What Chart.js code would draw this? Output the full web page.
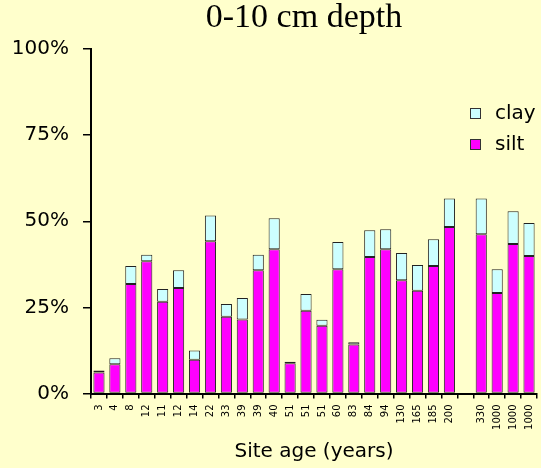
<!DOCTYPE html>
<html>
<head>
<meta charset="utf-8">
<script src="https://cdn.jsdelivr.net/npm/chart.js@4/dist/chart.umd.min.js"></script>
<style>
  html, body { margin: 0; padding: 0; background: #FFFFCC; }
  #wrap { width: 541px; height: 468px; }
</style>
</head>
<body>
<div id="wrap"><canvas id="chart" width="541" height="468"></canvas></div>
<script>
// data
const siteAges = ['3', '4', '8', '12', '11', '12', '14', '22', '33', '39', '39', '40', '51', '51', '51',
    '60', '83', '84', '94', '130', '165', '185', '200', '', '330', '1000', '1000', '1000'];
const siltValues = [6.1, 8.5, 31.8, 38.4, 26.6, 30.6, 9.8, 44.2, 22.3, 21.5, 35.8, 41.9, 8.8, 24.0, 19.7,
    36.1, 14.2, 39.6, 41.9, 32.9, 29.8, 37.0, 48.3, null, 46.2, 29.2, 43.4, 39.9];
const clayValues = [0.6, 1.7, 5.2, 1.9, 3.7, 5.2, 2.7, 7.5, 3.7, 6.2, 4.5, 9.0, 0.4, 4.9, 1.7,
    7.9, 0.7, 7.8, 5.8, 7.9, 7.5, 7.8, 8.3, null, 10.4, 6.9, 9.5, 9.6];
const yTicks = [0, 25, 50, 75, 100];

const sansFont = "'DejaVu Sans', sans-serif";

// judul dan legenda digambar sendiri
const extrasPlugin = {
    id: 'extras',
    afterDraw(chart) {
        const ctx = chart.ctx;
        const area = chart.chartArea;
        ctx.save();
        ctx.fillStyle = '#000';
        ctx.font = "34px 'Liberation Serif', serif";
        ctx.textAlign = 'center';
        ctx.textBaseline = 'alphabetic';
        ctx.fillText('0-10 cm depth', (area.left + area.right) / 2 - 10, 27);

        const items = [chart.data.datasets[1], chart.data.datasets[0]];
        ctx.font = '20px ' + sansFont;
        ctx.textAlign = 'left';
        ctx.textBaseline = 'middle';
        items.forEach((ds, i) => {
            const y = 108 + i * 31;
            ctx.fillStyle = ds.backgroundColor;
            ctx.fillRect(470, y, 11, 11);
            ctx.strokeStyle = '#333';
            ctx.lineWidth = 1;
            ctx.strokeRect(470.5, y + 0.5, 10, 10);
            ctx.fillStyle = '#000';
            ctx.fillText(ds.label, 495, y + 5.5);
        });
        ctx.restore();
    }
};

new Chart(document.getElementById('chart'), {
    type: 'bar',
    data: {
        labels: siteAges,
        datasets: [
            {
                label: 'silt',
                data: siltValues,
                backgroundColor: '#FF00FF',
                borderColor: '#222',
                borderWidth: 1,
                borderSkipped: false,
            },
            {
                label: 'clay',
                data: clayValues,
                backgroundColor: '#CCFFFF',
                borderColor: '#222',
                borderWidth: 1,
                borderSkipped: false,
            },
        ],
    },
    options: {
        responsive: false,
        animation: false,
        layout: { padding: { top: 49, right: 4, left: 0, bottom: 0 } },
        datasets: { bar: { categoryPercentage: 1, barPercentage: 0.7 } },
        plugins: {
            legend: { display: false },
            title: { display: false },
            tooltip: { enabled: false },
        },
        scales: {
            x: {
                stacked: true,
                grid: {
                    drawOnChartArea: false,
                    tickLength: 5,
                    color: '#000',
                    lineWidth: 1.5,
                },
                border: { color: '#000', width: 2 },
                ticks: {
                    autoSkip: false,
                    minRotation: 90,
                    maxRotation: 90,
                    padding: 6,
                    color: '#000',
                    font: { family: sansFont, size: 10 },
                },
                title: {
                    display: true,
                    text: 'Site age (years)',
                    color: '#000',
                    font: { family: sansFont, size: 20 },
                    padding: { top: 0, bottom: 4 },
                },
                afterFit(scale) {
                    scale.height = 74.5;
                    scale.paddingLeft = 0;
                    scale.paddingRight = 0;
                },
            },
            y: {
                stacked: true,
                min: 0,
                max: 100,
                afterBuildTicks(scale) {
                    scale.ticks = yTicks.map((v) => ({ value: v }));
                },
                grid: {
                    drawOnChartArea: false,
                    tickLength: 8,
                    color: '#000',
                    lineWidth: 1.5,
                },
                border: { color: '#000', width: 2 },
                ticks: {
                    padding: 14,
                    color: '#000',
                    font: { family: sansFont, size: 20 },
                    callback: (v) => v + '%',
                },
                afterFit(scale) {
                    scale.width = 91;
                },
            },
        },
    },
    plugins: [extrasPlugin],
});
</script>
</body>
</html>
